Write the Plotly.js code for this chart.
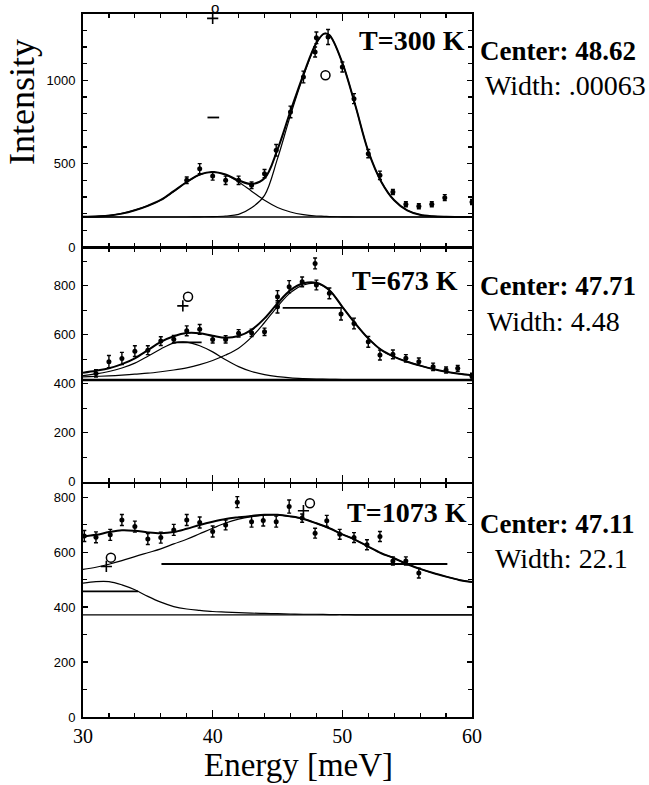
<!DOCTYPE html>
<html>
<head>
<meta charset="utf-8">
<script src="https://cdn.plot.ly/plotly-3.0.1.min.js"></script>
<style>html,body{margin:0;padding:0;background:#fff;}#chart{width:649px;height:785px;}</style>
</head>
<body>
<div id="chart"></div>
<script>
// ---------- DATA ----------
// Energy grid of the fitted curves [meV]
const fitE1 = [30,31,32,33,34,35,36,37,38,39,40,41,42,43,44,45,46,47,48,48.6,49,50,51,52,53,54,55,56,57,58,59,60];
const fitE  = [30,31,32,33,34,35,36,37,38,39,40,41,42,43,44,45,46,47,48,49,50,51,52,53,54,55,56,57,58,59,60];

// T = 300 K
const e300   = [38.0,39.0,40.0,41.0,42.0,43.0,44.0,44.9,46.0,47.0,47.9,48.0,48.9,50.0,50.9,52.0,52.9,53.9,54.9,55.9,56.9,57.9,60.0];
const i300   = [400,470,426,400,400,370,440,580,810,1020,1170,1255,1260,1080,890,560,430,330,256,244,256,296,270];
const err300 = [20,30,25,25,25,20,25,35,35,35,30,35,45,30,30,25,25,15,15,15,15,18,15];
const total300 = [181,182,188,200,220,247,282,335,390,435,450,435,400,378,412,585,815,1035,1225,1280,1272,1105,850,575,392,280,220,193,184,181,180,180];
const peakA300 = [181,185,190,202,221,248,282,333,390,433,450,433,390,335,280,237,210,194,186,184,182,181,180,180,180,180,180,180,180,180,180,180];
const peakB300 = [180,180,180,180,180,180,180,180,180,181,182,186,196,235,310,530,790,1025,1222,1280,1272,1105,850,575,392,280,220,193,184,181,180,180];
const bg300 = 180;
const odd300E = [48.7];            // open circle inside the frame
const odd300I = [1030];
const top300E = [40.2];            // open circle just above the frame, above the "+" mark
const plus300E = [40.0];
const plus300I = [1372];
const bar300E = [39.6, 40.5];
const bar300I = [777, 777];

// T = 673 K
const e673   = [31.0,32.0,33.0,34.0,35.0,36.0,37.0,38.0,39.0,40.0,41.0,42.0,43.0,44.0,45.0,45.0,45.9,46.9,47.9,48.0,49.0,49.9,50.9,52.0,52.9,53.9,54.9,55.9,57.0,58.0,58.9,60.0];
const i673   = [442,490,503,533,537,574,582,616,622,581,581,606,608,612,755,714,796,816,891,803,769,685,646,571,517,520,504,490,469,456,463,431];
const err673 = [15,25,25,22,18,18,15,20,20,15,15,15,15,15,25,25,25,20,22,20,22,25,22,22,20,18,15,15,15,12,12,12];
const total673 = [445,453,463,480,504,537,571,594,607,606,596,588,595,620,667,728,782,810,812,782,714,646,585,538,510,490,474,460,449,441,435];
const peakA673 = [433,440,450,464,484,512,542,566,570,555,530,498,470,450,437,429,424,421,419,418,417,416,416,415,415,415,415,415,415,415,415];
const peakB673 = [428,430,432,435,439,443,449,456,465,478,495,517,545,590,650,715,772,803,810,782,714,646,585,538,510,490,474,460,449,441,435];
const bg673 = 415;
const odd673E = [38.1];
const odd673I = [755];
const plus673E = [37.7];
const plus673I = [718];
const bar673E = [36.9, 39.15, null, 45.4, 49.8];
const bar673I = [569, 569, null, 710, 710];

// T = 1073 K
const e1073   = [30.1,31.0,32.1,33.0,34.0,35.0,36.0,37.0,38.0,39.0,40.0,41.0,41.9,43.0,43.9,44.9,45.9,46.9,47.9,48.8,49.8,50.9,51.9,52.9,53.9,54.9,55.9];
const i1073   = [659,654,663,717,693,648,653,681,717,708,675,699,782,711,715,711,766,724,669,714,665,653,627,657,568,568,524];
const err1073 = [20,20,20,20,20,20,20,20,20,20,20,18,20,20,20,20,24,15,18,20,18,18,18,18,15,15,18];
const total1073 = [657,663,673,680,678,672,669,673,685,699,711,721,727,732,736,736,730,721,705,687,665,645,620,596,578,556,539,524,511,499,491];
const peakA1073 = [487,493,493,481,463,439,418,402,393,388,384,382,380,378,377,376,375,374,374,373,373,372,372,372,372,372,372,372,372,372,372];
const peakB1073 = [537,545,556,569,584,598,612,630,647,667,687,706,720,729,735,736,730,721,705,687,665,645,620,596,578,556,539,524,511,499,491];
const bg1073 = 372;
const odd1073E = [32.15, 47.5];
const odd1073I = [580, 778];
const plus1073E = [31.8, 47.0];
const plus1073I = [548, 751];
const bar1073E = [30, 34.25, null, 36.05, 58.1];
const bar1073I = [457, 457, null, 557, 557];

const xRange = [30, 60];
const xTicks = [30, 40, 50, 60];

// ---------- BUILD ----------
const BLACK = '#000';
function panel(xa, ya, E, I, err, gridE, tot, pa, pb, bg, oddE, oddI, plE, plI, barE, barI, bgW) {
  return [
    {x: [xRange[0], xRange[1]], y: [bg, bg], xaxis: xa, yaxis: ya, mode: 'lines',
     line: {color: BLACK, width: bgW}, hoverinfo: 'skip'},
    {x: gridE, y: pa, xaxis: xa, yaxis: ya, mode: 'lines',
     line: {color: BLACK, width: 1.2, shape: 'spline', smoothing: 1}},
    {x: gridE, y: pb, xaxis: xa, yaxis: ya, mode: 'lines',
     line: {color: BLACK, width: 1.2, shape: 'spline', smoothing: 1}},
    {x: gridE, y: tot, xaxis: xa, yaxis: ya, mode: 'lines',
     line: {color: BLACK, width: 2, shape: 'spline', smoothing: 1}},
    {x: barE, y: barI, xaxis: xa, yaxis: ya, mode: 'lines', connectgaps: false,
     line: {color: BLACK, width: 1.8}},
    {x: E, y: I, xaxis: xa, yaxis: ya, mode: 'markers',
     marker: {color: BLACK, size: 5, symbol: 'circle'},
     error_y: {type: 'data', array: err, visible: true, color: BLACK, thickness: 1.4, width: 2}},
    {x: oddE, y: oddI, xaxis: xa, yaxis: ya, mode: 'markers', cliponaxis: false,
     marker: {color: BLACK, size: 9, symbol: 'circle-open', line: {width: 1.5, color: BLACK}}},
    {x: plE, y: plI, xaxis: xa, yaxis: ya, mode: 'markers', cliponaxis: false,
     marker: {color: BLACK, size: 8, symbol: 'cross-thin-open', line: {width: 1.6, color: BLACK}}}
  ];
}

const data = [].concat(
  panel('x', 'y', e300, i300, err300, fitE1, total300, peakA300, peakB300, bg300,
        odd300E, odd300I, plus300E, plus300I, bar300E, bar300I, 1.5),
  panel('x2', 'y2', e673, i673, err673, fitE, total673, peakA673, peakB673, bg673,
        odd673E, odd673I, plus673E, plus673I, bar673E, bar673I, 2.6),
  panel('x3', 'y3', e1073, i1073, err1073, fitE, total1073, peakA1073, peakB1073, bg1073,
        odd1073E, odd1073I, plus1073E, plus1073I, bar1073E, bar1073I, 1.3)
);

function xAxis(anchor, labels) {
  return {
    anchor: anchor, domain: [0, 1], range: xRange, tickvals: xTicks,
    ticks: 'inside', ticklen: 7, tickwidth: 1.5, tickcolor: BLACK,
    minor: {dtick: 2, tick0: 30, ticks: 'inside', ticklen: 4, tickwidth: 1.2, tickcolor: BLACK, showgrid: false},
    mirror: 'allticks', showline: true, linewidth: 2, linecolor: BLACK,
    showgrid: false, zeroline: false, showticklabels: labels,
    tickfont: {family: 'Liberation Serif, Times New Roman, serif', size: 20, color: BLACK}
  };
}
function yAxis(domain, range, dtick) {
  return {
    anchor: domain.a, domain: domain.d, range: range, dtick: dtick, tick0: 0,
    ticks: 'inside', ticklen: 5, tickwidth: 1.3, tickcolor: BLACK,
    minor: {dtick: 100, tick0: 0, ticks: 'inside', ticklen: 4, tickwidth: 1.2, tickcolor: BLACK, showgrid: false},
    mirror: 'allticks', showline: true, linewidth: 2, linecolor: BLACK,
    showgrid: false, zeroline: false, ticklabelstandoff: 3,
    tickfont: {family: 'Liberation Sans, Arial, sans-serif', size: 13, color: BLACK}
  };
}

const serif = 'Liberation Serif, Times New Roman, serif';
function ann(text, x, y, xanchor, size, extra) {
  return Object.assign({text: text, x: x, y: y, xref: 'paper', yref: 'paper',
    xanchor: xanchor, yanchor: 'middle', showarrow: false,
    font: {family: serif, size: size, color: BLACK}}, extra || {});
}

const annotations = [
  ann('<b>T=300 K</b>', 0.987, 0.9616, 'right', 28),
  ann('<b>T=673 K</b>', 0.969, 0.6216, 'right', 28),
  ann('<b>T=1073 K</b>', 0.9923, 0.2916, 'right', 28),
  ann('<b>Center: 48.62</b>', 1.016, 0.9474, 'left', 27),
  ann('Width: .00063', 1.028, 0.899, 'left', 28),
  ann('<b>Center: 47.71</b>', 1.016, 0.6131, 'left', 27),
  ann('Width: 4.48', 1.033, 0.5633, 'left', 28),
  ann('<b>Center: 47.11</b>', 1.016, 0.2745, 'left', 27),
  ann('Width: 22.1', 1.053, 0.2248, 'left', 28),
  ann('Intensity', -0.1568, 0.8748, 'center', 36, {textangle: -90}),
  ann('Energy [meV]', 0.5527, -0.068, 'center', 33)
];
// open circle sitting just above the top frame, stacked over the "+" mark
top300E.forEach(function (e, k) {
  annotations.push({text: 'o', x: e, y: plus300I[k], xref: 'x', yref: 'y',
    xanchor: 'center', yanchor: 'middle', yshift: 11, showarrow: false,
    font: {family: 'Liberation Sans, Arial, sans-serif', size: 15, color: BLACK}});
});

const layout = {
  width: 649, height: 785,
  margin: {l: 83, r: 177, t: 14, b: 68, pad: 0},
  paper_bgcolor: '#fff', plot_bgcolor: '#fff',
  showlegend: false,
  xaxis: xAxis('y', false),
  xaxis2: xAxis('y2', false),
  xaxis3: xAxis('y3', true),
  yaxis: yAxis({a: 'x', d: [0.6686, 1]}, [0, 1398], 500),
  yaxis2: yAxis({a: 'x2', d: [0.3347, 0.6671]}, [0, 954], 200),
  yaxis3: yAxis({a: 'x3', d: [0, 0.3314]}, [0, 848], 200),
  annotations: annotations
};

Plotly.newPlot('chart', data, layout, {displayModeBar: false, staticPlot: true});
</script>
</body>
</html>
